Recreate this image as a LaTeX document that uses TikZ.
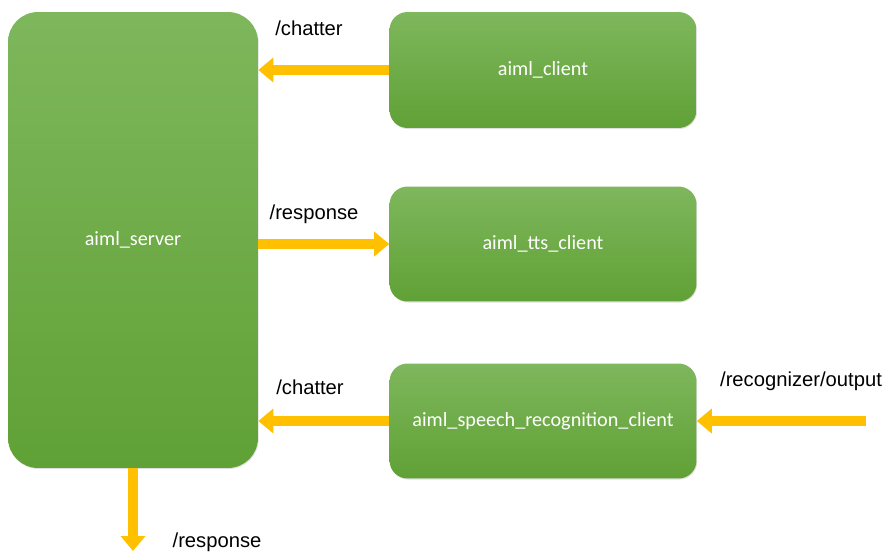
\documentclass[tikz,border=0pt]{standalone}
\usepackage{fontspec}
\setmainfont{Liberation Sans}
\newfontfamily\boxfont{Carlito}
\usetikzlibrary{arrows.meta,shadows}
\definecolor{greentop}{RGB}{126,183,92}
\definecolor{greenbot}{RGB}{96,161,54}
\definecolor{arrowyellow}{RGB}{255,192,0}

\begin{document}
\begin{tikzpicture}[x=0.02cm,y=-0.02cm]
        \tikzstyle{every node} = [rectangle]
        \tikzstyle{rosnode} = [draw=none, top color=greentop, bottom color=greenbot, text=white,
            font=\boxfont\fontsize{11.5}{13}\selectfont, drop shadow={opacity=0.25,shadow xshift=0.4pt,shadow yshift=-0.6pt}]
        \tikzstyle{topic} = [font=\fontsize{11.5}{14}\selectfont, inner sep=0pt]
        \tikzstyle{arr} = [arrowyellow, line width=0.2cm, -{Triangle[width=0.48cm,length=0.3cm]}]
        \useasboundingbox (0,0) rectangle (891,557);

        % nodes
        \node[rosnode, rounded corners=0.6cm, minimum width=5cm, minimum height=9.12cm] (server) at (133,240) {aiml\_server};
        \node[rosnode, rounded corners=0.36cm, minimum width=6.14cm, minimum height=2.32cm] (client) at (543,70) {aiml\_client};
        \node[rosnode, rounded corners=0.36cm, minimum width=6.14cm, minimum height=2.3cm] (tts) at (543,244) {aiml\_tts\_client};
        \node[rosnode, rounded corners=0.36cm, minimum width=6.14cm, minimum height=2.3cm] (speech) at (543,421) {aiml\_speech\_recognition\_client};
        \coordinate (recin) at (866,421);
        \coordinate (respout) at (133,551);

        % topics
        \node[topic] (chat1) at (309,28) {/chatter};
        \node[topic] (resp1) at (314,214) {/response};
        \node[topic] (chat2) at (310,387) {/chatter};
        \node[topic] (recog) at (801,381) {/recognizer/output};
        \node[topic] (resp2) at (217,542) {/response};

        \draw[arr] (client.west) -- (server.east |- client.west);
        \draw[arr] (server.east |- tts.west) -- (tts.west);
        \draw[arr] (speech.west) -- (server.east |- speech.west);
        \draw[arr] (recin) -- (speech.east);
        \draw[arr] (server.south) -- (respout);
\end{tikzpicture}
\end{document}
